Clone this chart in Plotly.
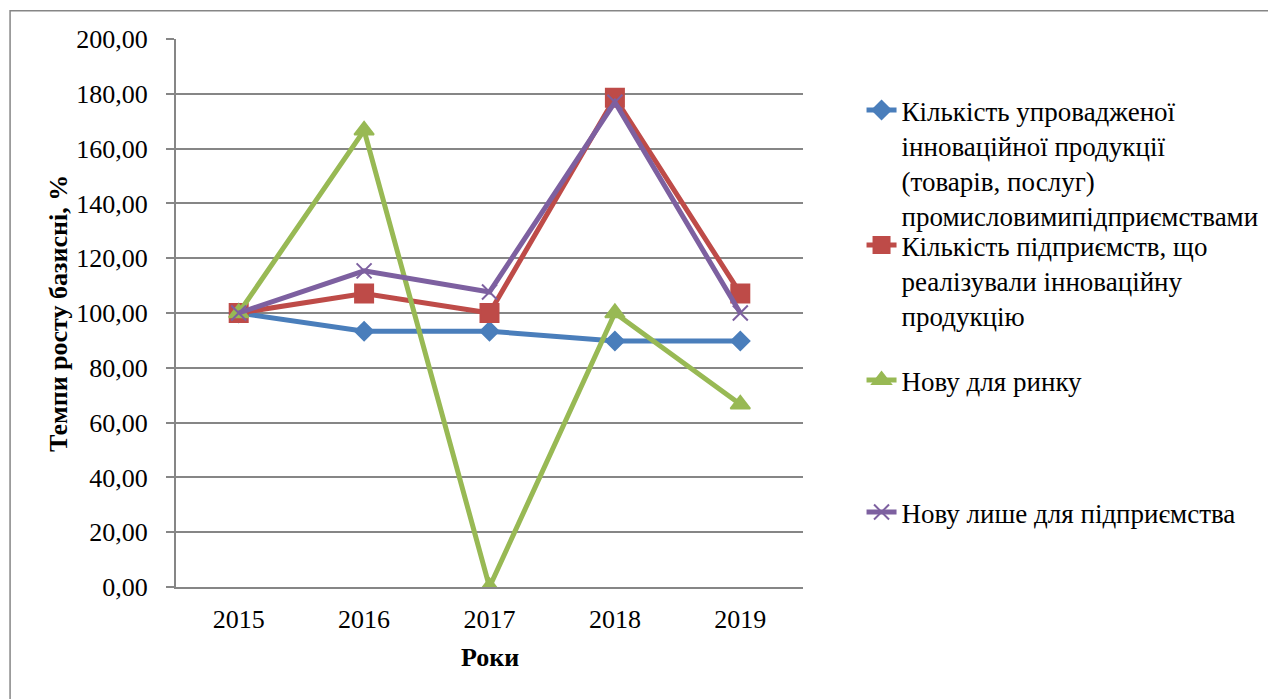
import plotly.graph_objects as go

years = ["2015", "2016", "2017", "2018", "2019"]
s_names = [
    "Кількість упровадженої<br>інноваційної продукції<br>(товарів, послуг)<br>промисловимипідприємствами",
    "Кількість підприємств, що<br>реалізували інноваційну<br>продукцію",
    "Нову для ринку",
    "Нову лише для підприємства",
]
blue_vals = [100.00, 93.33, 93.33, 89.80, 89.80]
red_vals = [100.00, 107.14, 100.00, 178.57, 107.14]
green_vals = [100.00, 166.67, 0.00, 100.00, 66.67]
purple_vals = [100.00, 115.38, 107.69, 176.92, 100.00]
y_ticks = [0, 20, 40, 60, 80, 100, 120, 140, 160, 180, 200]

colors = ["#4A7EBB", "#BE4B48", "#98B954", "#7D60A0"]
symbols = ["diamond", "square", "triangle-up", "x-thin"]
sizes = [14, 18, 17, 15]
series = [blue_vals, red_vals, green_vals, purple_vals]
legends = ["legend", "legend2", "legend3", "legend4"]

FONT = "'Times New Roman', 'Liberation Serif', 'DejaVu Serif', serif"
OFF = 8  # page body margin
W, H = 1276 - OFF, 699 - OFF
L, R, T, B = 176 - OFF, 808 - OFF, 39 - OFF, 587 - OFF

def px_x(px):
    return (px - OFF - L) / (R - L)

def px_y(py):
    return (B - (py - OFF)) / (B - T)

fig = go.Figure()
for i in range(4):
    fig.add_trace(go.Scatter(
        x=years, y=series[i], name=s_names[i], mode="lines+markers",
        line=dict(color=colors[i], width=5),
        marker=dict(symbol=symbols[i], size=sizes[i], color=colors[i],
                    line=dict(color=colors[i], width=2)),
        legend=legends[i],
    ))

first_line_y = [113, 248, 383, 515]
leg_common = dict(font=dict(family=FONT, size=27, color="black"),
                  bgcolor="rgba(0,0,0,0)", valign="top",
                  xanchor="left", yanchor="top", itemwidth=30)
leg_layout = {}
for i, key in enumerate(legends):
    leg_layout[key] = dict(x=px_x(867), y=px_y(first_line_y[i] - 27), **leg_common)

fig.update_layout(
    width=W, height=H,
    margin=dict(l=L, r=W - R, t=T, b=H - B, pad=0),
    paper_bgcolor="white", plot_bgcolor="white",
    separators=", ",
    font=dict(family=FONT, size=26, color="black"),
    showlegend=True,
    xaxis=dict(type="category", range=[-0.5, 4.5], showgrid=False,
               showline=True, linecolor="#868686", linewidth=2,
               ticks="", tickfont=dict(family=FONT, size=26, color="black"),
               ticklabelstandoff=8, zeroline=False),
    yaxis=dict(range=[0, 200], tickvals=y_ticks, tickformat=".2f",
               showgrid=True, gridcolor="#868686", gridwidth=1.5,
               showline=True, linecolor="#868686", linewidth=2,
               ticks="outside", ticklen=8, tickcolor="#868686", tickwidth=2,
               tickfont=dict(family=FONT, size=26, color="black"),
               ticklabelstandoff=13, zeroline=False),
    annotations=[
        dict(text="<b>Темпи росту базисні, %</b>", xref="paper", yref="paper",
             x=px_x(57), y=px_y(313), textangle=-90, showarrow=False,
             font=dict(family=FONT, size=26, color="black"),
             xanchor="center", yanchor="middle"),
        dict(text="<b>Роки</b>", xref="paper", yref="paper",
             x=px_x(492), y=px_y(657), showarrow=False,
             font=dict(family=FONT, size=26, color="black"),
             xanchor="center", yanchor="middle"),
    ],
    shapes=[dict(type="rect", xref="paper", yref="paper",
                 x0=px_x(8.75), x1=px_x(1300), y0=px_y(720), y1=px_y(10.75),
                 line=dict(color="#868686", width=1.5), layer="below")],
    **leg_layout,
)

fig.write_html("out.html")
